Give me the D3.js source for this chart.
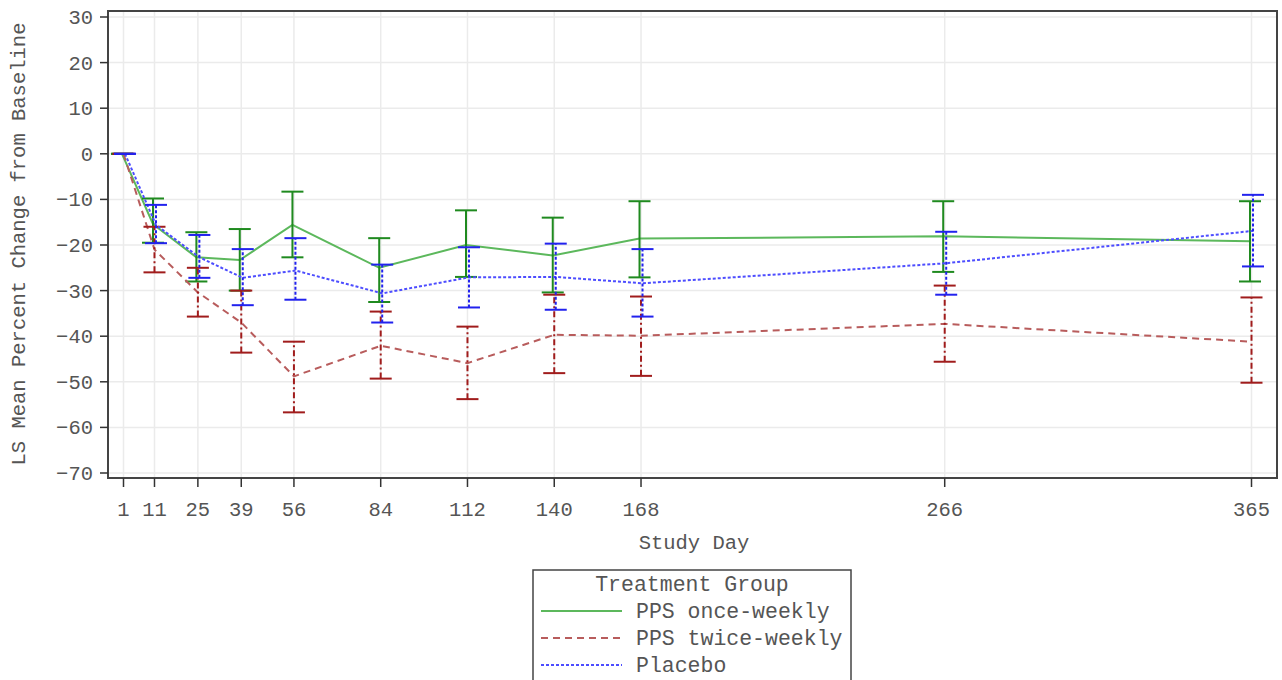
<html>
<head>
    <script src="https://d3js.org/d3.v7.min.js"></script>
    <style>
        body { margin: 0; background: #fff; }
        text { font-family: "Liberation Mono", "DejaVu Sans Mono", monospace; fill: #555; }
        .grid line { stroke: #ebebeb; stroke-width: 1.5; }
        .tick-label { font-size: 20.5px; }
        .axis-label { font-size: 20.5px; }
        .legend text { font-size: 21.5px; }
    </style>
</head>
<body>
    <svg id="chart"></svg>

    <script>
        const days = [1, 11, 25, 39, 56, 84, 112, 140, 168, 266, 365];
        const yTicks = [30, 20, 10, 0, -10, -20, -30, -40, -50, -60, -70];
        const groups = ["PPS once-weekly", "PPS twice-weekly", "Placebo"];

        const onceMean = [0, -15.4, -22.7, -23.3, -15.6, -25.0, -20.0, -22.3, -18.6, -18.1, -19.2];
        const onceLow  = [0, -19.5, -28.0, -30.0, -22.7, -32.5, -27.0, -30.4, -27.1, -25.9, -28.0];
        const onceHigh = [0, -9.8, -17.2, -16.5, -8.3, -18.5, -12.4, -14.0, -10.4, -10.4, -10.4];

        const twiceMean = [0, -21.0, -30.4, -37.0, -48.8, -42.1, -45.9, -39.7, -39.9, -37.3, -41.2];
        const twiceLow  = [0, -26.0, -35.7, -43.6, -56.7, -49.3, -53.8, -48.1, -48.7, -45.6, -50.2];
        const twiceHigh = [0, -16.0, -25.0, -30.0, -41.2, -34.6, -37.9, -30.9, -31.3, -28.9, -31.5];

        const placeboMean = [0, -15.6, -22.7, -27.2, -25.6, -30.6, -27.1, -27.0, -28.4, -24.0, -16.9];
        const placeboLow  = [0, -19.6, -27.2, -33.2, -32.0, -37.0, -33.7, -34.2, -35.7, -30.9, -24.7];
        const placeboHigh = [0, -11.2, -17.8, -20.9, -18.5, -24.3, -20.5, -19.7, -20.9, -17.1, -9.0];

        const series = [
            { name: groups[0], mean: onceMean, low: onceLow, high: onceHigh,
              line: "#5cb85c", bar: "#1f8a1f", dash: null, barDash: null, dx: -1.5 },
            { name: groups[1], mean: twiceMean, low: twiceLow, high: twiceHigh,
              line: "#b85c5c", bar: "#a01c1c", dash: "7,5", barDash: "6,3,2,3", dx: 0 },
            { name: groups[2], mean: placeboMean, low: placeboLow, high: placeboHigh,
              line: "#4d4dff", bar: "#2222ee", dash: "3,2", barDash: "3,2", dx: 1.5 }
        ];

        const W = 1282, H = 680;
        const frame = { left: 108, right: 1277, top: 11, bottom: 478 };

        const svg = d3.select("#chart").attr("width", W).attr("height", H);

        const x = d3.scaleLinear().domain([1, 365]).range([123.5, 1251.5]);
        const y = d3.scaleLinear().domain([30, -70]).range([17, 473]);

        // grid
        const grid = svg.append("g").attr("class", "grid");
        grid.selectAll(".h").data(yTicks).enter().append("line")
            .attr("x1", frame.left).attr("x2", frame.right)
            .attr("y1", d => y(d)).attr("y2", d => y(d));
        grid.selectAll(".v").data(days).enter().append("line")
            .attr("x1", d => x(d)).attr("x2", d => x(d))
            .attr("y1", frame.top).attr("y2", frame.bottom);

        // frame
        svg.append("rect")
            .attr("x", frame.left).attr("y", frame.top)
            .attr("width", frame.right - frame.left).attr("height", frame.bottom - frame.top)
            .attr("fill", "none").attr("stroke", "#444").attr("stroke-width", 2);

        // y axis ticks
        svg.selectAll(".ytick").data(yTicks).enter().append("line")
            .attr("x1", frame.left - 8).attr("x2", frame.left)
            .attr("y1", d => y(d)).attr("y2", d => y(d))
            .attr("stroke", "#333").attr("stroke-width", 1.5);
        svg.selectAll(".ylab").data(yTicks).enter().append("text")
            .attr("class", "tick-label")
            .attr("x", 93).attr("y", d => y(d) + 7)
            .attr("text-anchor", "end")
            .text(d => d < 0 ? "\u2212" + Math.abs(d) : d);

        // x axis ticks
        svg.selectAll(".xtick").data(days).enter().append("line")
            .attr("x1", d => x(d)).attr("x2", d => x(d))
            .attr("y1", frame.bottom).attr("y2", frame.bottom + 9)
            .attr("stroke", "#333").attr("stroke-width", 1.5);
        svg.selectAll(".xlab").data(days).enter().append("text")
            .attr("class", "tick-label")
            .attr("x", d => x(d)).attr("y", 516)
            .attr("text-anchor", "middle")
            .text(d => d);

        svg.append("text").attr("class", "axis-label")
            .attr("x", 694).attr("y", 549)
            .attr("text-anchor", "middle")
            .text("Study Day");

        svg.append("text").attr("class", "axis-label")
            .attr("transform", "translate(25,244)rotate(-90)")
            .attr("text-anchor", "middle")
            .text("LS Mean Percent Change from Baseline");

        // series
        series.forEach(s => {
            const g = svg.append("g");
            const pts = days.map((d, i) => ({ d, m: s.mean[i], lo: s.low[i], hi: s.high[i] }));

            const line = d3.line().x(p => x(p.d) + s.dx).y(p => y(p.m));
            g.append("path").datum(pts)
                .attr("d", line)
                .attr("fill", "none")
                .attr("stroke", s.line)
                .attr("stroke-width", 2)
                .attr("stroke-dasharray", s.dash);

            g.selectAll(".err").data(pts).enter().append("line")
                .attr("x1", p => x(p.d) + s.dx).attr("x2", p => x(p.d) + s.dx)
                .attr("y1", p => y(p.lo)).attr("y2", p => y(p.hi))
                .attr("stroke", s.bar).attr("stroke-width", 2)
                .attr("stroke-dasharray", s.barDash);

            ["lo", "hi"].forEach(k => {
                g.selectAll(".cap-" + k).data(pts).enter().append("line")
                    .attr("x1", p => x(p.d) + s.dx - 11).attr("x2", p => x(p.d) + s.dx + 11)
                    .attr("y1", p => y(p[k])).attr("y2", p => y(p[k]))
                    .attr("stroke", s.bar).attr("stroke-width", 2);
            });
        });

        // legend
        const legend = svg.append("g").attr("class", "legend");
        legend.append("rect")
            .attr("x", 533).attr("y", 570).attr("width", 318).attr("height", 116)
            .attr("fill", "none").attr("stroke", "#444").attr("stroke-width", 1.5);
        legend.append("text")
            .attr("x", 692).attr("y", 591)
            .attr("text-anchor", "middle")
            .text("Treatment Group");

        series.forEach((s, i) => {
            const ly = 611 + i * 27;
            legend.append("line")
                .attr("x1", 541).attr("x2", 622)
                .attr("y1", ly).attr("y2", ly)
                .attr("stroke", s.line).attr("stroke-width", 2)
                .attr("stroke-dasharray", s.dash);
            legend.append("text")
                .attr("x", 636).attr("y", ly + 7)
                .text(s.name);
        });
    </script>
</body>
</html>
